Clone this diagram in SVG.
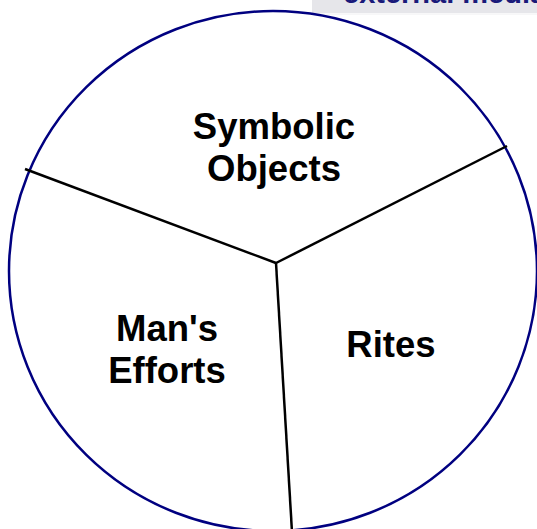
<svg xmlns="http://www.w3.org/2000/svg" width="537" height="529" viewBox="0 0 537 529">
<style>
.lbl{font-family:"Liberation Sans",Arial,sans-serif;font-weight:bold;font-size:36.5px;fill:#000;text-anchor:middle}
.div{stroke:#000;stroke-width:2.5;fill:none}
</style>
<rect width="537" height="529" fill="#fff"/>
<g id="header">
<rect x="312" y="-2" width="230" height="15" fill="#e6e6ea"/>
<line x1="312" y1="14" x2="537" y2="14" stroke="#f0f0f2" stroke-width="1"/>
<text x="343" y="3" font-family="Liberation Sans, Arial, sans-serif" font-weight="bold" font-size="29" fill="#1a1a7a">external media</text>
</g>
<g id="circle">
<ellipse cx="273" cy="271" rx="264" ry="260" fill="none" stroke="#000080" stroke-width="2.5"/>
</g>
<g id="connectors">
<line class="div" x1="276" y1="263" x2="25" y2="169"/>
<line class="div" x1="276" y1="263" x2="507" y2="146"/>
<line class="div" x1="276" y1="263" x2="292" y2="532"/>
</g>
<g id="symbolic"><text class="lbl" x="274" y="139">Symbolic</text><text class="lbl" x="274" y="181">Objects</text></g>
<g id="mans"><text class="lbl" x="167" y="341">Man's</text><text class="lbl" x="167" y="383">Efforts</text></g>
<g id="rites"><text class="lbl" x="391" y="357">Rites</text></g>
</svg>
